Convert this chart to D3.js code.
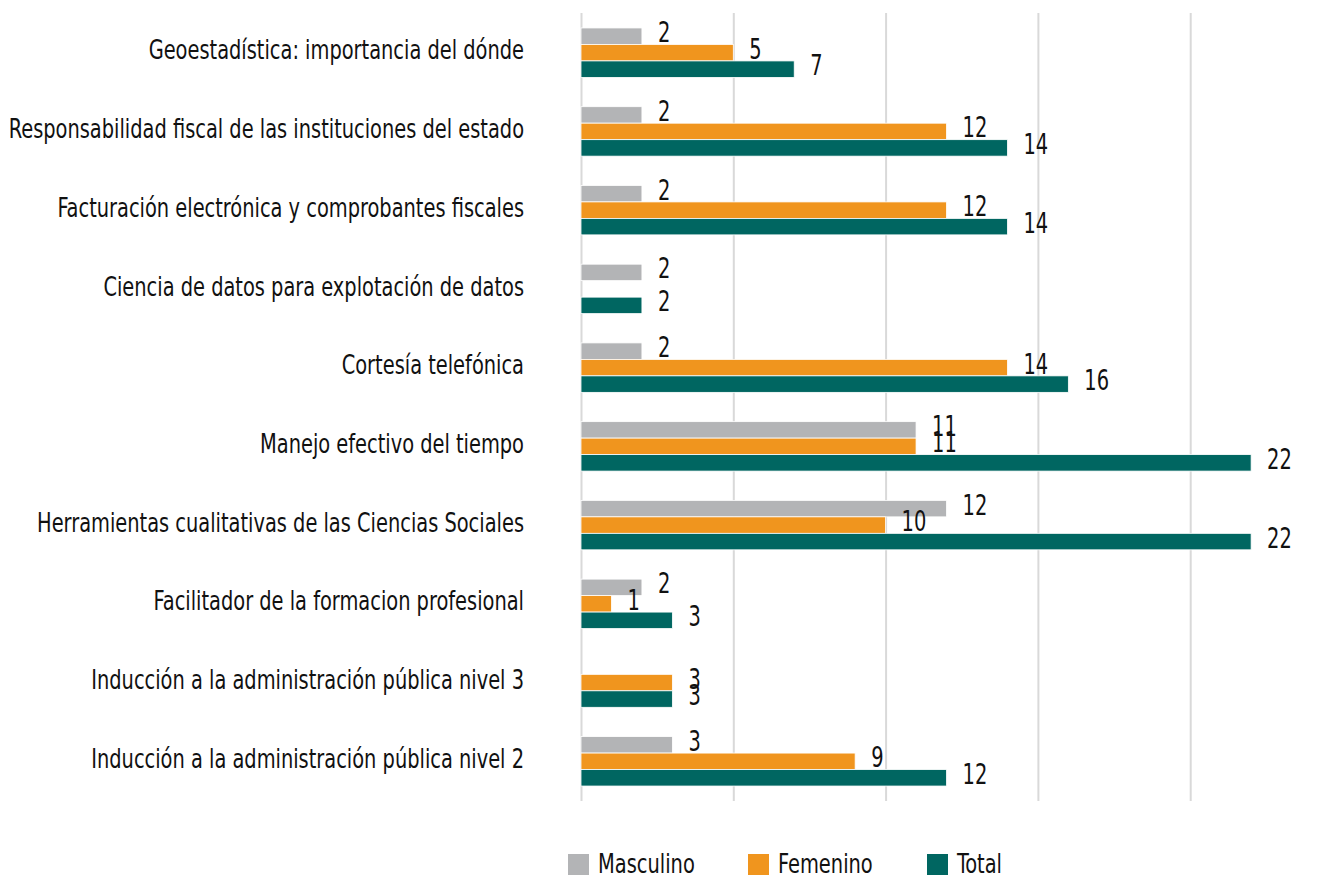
<!DOCTYPE html>
<html>
<head>
<meta charset="utf-8">
<script src="https://cdn.jsdelivr.net/npm/d3@7"></script>
<style>
  body { margin: 0; background: #fff; }
  svg { display: block; font-family: "DejaVu Sans Condensed", "DejaVu Sans", sans-serif; }
</style>
</head>
<body>
<svg id="chart" width="1330" height="877"></svg>
<script>
"use strict";

// courses, top to bottom
const categories = [
  "Geoestadística: importancia del dónde",
  "Responsabilidad fiscal de las instituciones del estado",
  "Facturación electrónica y comprobantes fiscales",
  "Ciencia de datos para explotación de datos",
  "Cortesía telefónica",
  "Manejo efectivo del tiempo",
  "Herramientas cualitativas de las Ciencias Sociales",
  "Facilitador de la formacion profesional",
  "Inducción a la administración pública nivel 3",
  "Inducción a la administración pública nivel 2"
];
const masculino = [2, 2, 2, 2, 2, 11, 12, 2, null, 3];
const femenino = [5, 12, 12, null, 14, 11, 10, 1, 3, 9];
const total = [7, 14, 14, 2, 16, 22, 22, 3, 3, 12];
const seriesNames = ["Masculino", "Femenino", "Total"];
const seriesColors = ["#b3b4b6", "#f0951e", "#006661"];
const gridTicks = [0, 5, 10, 15, 20, 25];

let series = [masculino, femenino, total];

let svg = d3.select("#chart");
let margin = { top: 13, left: 581, bottom: 76 };

let xScale = d3.scaleLinear().domain([0, 25]).range([margin.left, 1342.5]);
let yScale = d3.scaleBand().domain(categories)
  .range([margin.top, 877 - margin.bottom])
  .paddingInner(0.372).paddingOuter(0.19);
let subScale = d3.scaleBand().domain(seriesNames).range([0, yScale.bandwidth()]);

// no condensed face installed, so narrow the glyphs by hand
function label(parent, x, y, txt, opts) {
  let o = Object.assign({ anchor: "start", size: 26, squeeze: 0.83 }, opts);
  return parent.append("text")
    .attr("transform", `translate(${x},${y}) scale(${o.squeeze},1)`)
    .attr("text-anchor", o.anchor).attr("dominant-baseline", "middle")
    .style("font-size", o.size + "px").style("fill", "#111")
    .text(txt);
}

// vertical gridlines
let xAxis = d3.axisBottom(xScale).tickValues(gridTicks)
  .tickSize(-(yScale.range()[1] - yScale.range()[0])).tickFormat("");
let grid = svg.append("g").attr("transform", `translate(0,${yScale.range()[1]})`).call(xAxis);
grid.select(".domain").remove();
grid.selectAll(".tick line").style("stroke", "#d9d9d9").style("stroke-width", 2);

// category labels
let catGroup = svg.append("g");
categories.forEach(cat => {
  label(catGroup, margin.left - 57, yScale(cat) + yScale.bandwidth() / 2 - 1, cat, { anchor: "end" });
});

// bars and value labels
series.forEach((values, si) => {
  let g = svg.append("g");
  categories.forEach((cat, ci) => {
    let v = values[ci];
    if (v === null) return;
    let y = yScale(cat) + subScale(seriesNames[si]);
    g.append("rect")
      .attr("x", xScale(0)).attr("y", y)
      .attr("width", xScale(v) - xScale(0)).attr("height", subScale.bandwidth())
      .style("fill", seriesColors[si]).style("stroke", "#fff").style("stroke-width", 0.8);
    label(g, xScale(v) + 16, y + subScale.bandwidth() / 2 - 2, v, { size: 29, squeeze: 0.745 });
  });
});

// legend
let legendX = [568, 748, 927];
let legend = svg.append("g");
seriesNames.forEach((name, i) => {
  legend.append("rect").attr("x", legendX[i]).attr("y", 854).attr("width", 21).attr("height", 21)
    .style("fill", seriesColors[i]);
  label(legend, legendX[i] + 30, 865, name, { size: 27, squeeze: 0.8 });
});
</script>
</body>
</html>
